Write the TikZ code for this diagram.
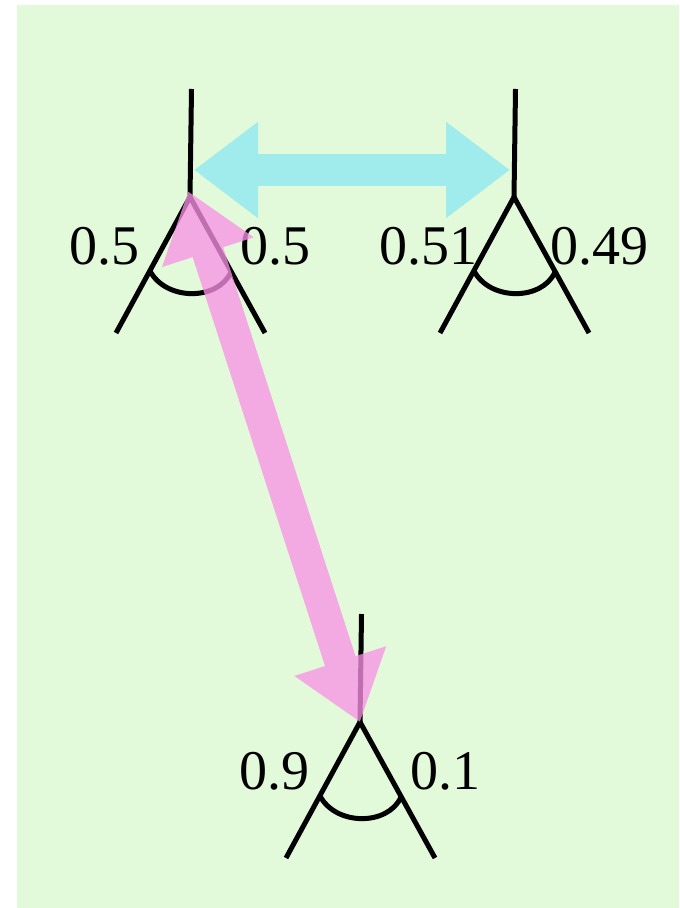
\documentclass[tikz,border=0pt]{standalone}
\usepackage{fontspec}
\setmainfont{Liberation Serif}
\usetikzlibrary{
	arrows.meta,
	positioning
}
\definecolor{bggreen}{HTML}{E2FAD9}
\definecolor{swapcyan}{HTML}{A0ECEC}
\definecolor{swappink}{HTML}{F991E5}

\tikzset{
	pics/split/.style 2 args={
		code={
			\coordinate (-apex) at (0,0);
			\coordinate (-mid) at (0,-27);
			\draw[leg] (1.5,-108) -- (-apex);
			\draw[leg] (-74,136) -- (-apex) -- (75,136);
			\draw[leg] (-40,74) .. controls (-24,104) and (28,104) .. (41,75);
			\node[prob] (-left) at (-86,49) {#1};
			\node[prob] (-right) at (85,49) {#2};
		}
	}
}

\begin{document}
\begin{tikzpicture}[
	x=0.5pt, y=-0.5pt,
	>={Triangle[length=32pt, width=46pt]},
	leg/.style={line width=2.5pt, black},
	prob/.style={font=\fontsize{28}{30}\selectfont, inner sep=0pt, text=black},
	swap/.style={<->, line width=16pt},
	]
	
	% Canvas and background
	\useasboundingbox (0,0) rectangle (679,908);
	\fill[bggreen] (17,5) rectangle (679,908);
	
	% The three split points
	\pic (top left)  at (190,197) {split={0.5}{0.5}};
	\pic (top right) at (514,197) {split={0.51}{0.49}};
	\pic (bottom)    at (360,722) {split={0.9}{0.1}};
	
	% --- Swaps ---
	\draw[swap, swapcyan, shorten <=2pt, shorten >=2pt] (top left-mid) -- (top right-mid);
	
	\begin{scope}[transparency group, opacity=0.77]
		\draw[swap, swappink, shorten <=-3pt] (top left-apex) -- (bottom-apex);
	\end{scope}
\end{tikzpicture}
\end{document}
